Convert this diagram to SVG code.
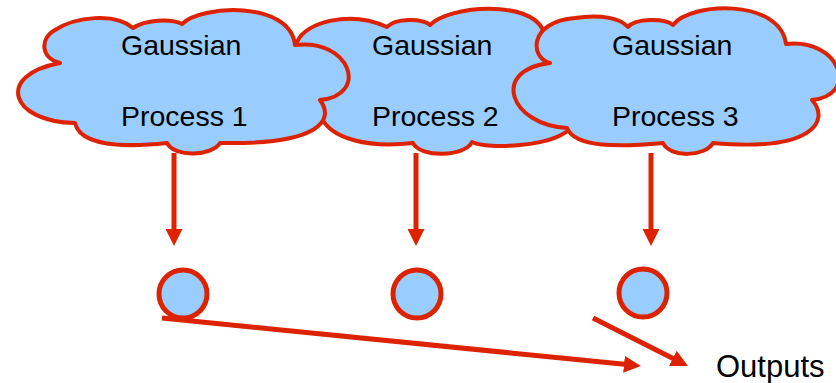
<svg xmlns="http://www.w3.org/2000/svg" width="836" height="383" viewBox="0 0 836 383">
<style>
.cloud{fill:#99ccff;stroke:#dd2200;stroke-width:4;stroke-linejoin:round}
.lbl{font-family:"Liberation Sans",Arial,sans-serif;font-size:28.5px;fill:#000}
.out{font-family:"Liberation Sans",Arial,sans-serif;font-size:31px;fill:#000}
.node{fill:#99ccff;stroke:#dd2200;stroke-width:5}
.edge{stroke:#dd2200;stroke-width:5;fill:none;marker-end:url(#ah)}
</style>
<defs>
<marker id="ah" markerUnits="userSpaceOnUse" markerWidth="17" markerHeight="17" refX="3" refY="8.5" orient="auto">
<path d="M0,0 L17,8.5 L0,17 Z" fill="#dd2200"/>
</marker>
</defs>
<rect width="836" height="383" fill="#fff"/>
<g id="gp2">
<path class="cloud" d="M297,42 C305,22 350,10 387,27 C395,18 422,18 430,25 C450,5 530,0 543,30 C585,30 600,85 570,98 C590,110 580,140 520,145 C500,147 480,146 472,142 C465,157 420,158 413,143 C370,148 330,140 320,115 C280,105 275,50 297,42 Z"/>
<text class="lbl" x="372" y="55">Gaussian</text>
<text class="lbl" x="372" y="126">Process 2</text>
</g>
<g id="gp1">
<path class="cloud" d="M60,63 C40,58 40,38 55,30 C75,17 115,12 133,28 C145,20 170,18 182,24 C200,5 290,0 295,45 C350,38 370,95 320,100 C335,120 320,145 220,143 C212,156 175,158 167,143 C120,148 80,145 75,123 C10,122 -5,75 60,63 Z"/>
<text class="lbl" x="121" y="55">Gaussian</text>
<text class="lbl" x="121" y="126">Process 1</text>
</g>
<g id="gp3">
<path class="cloud" d="M550,63 C530,58 528,22 575,18 C600,14 620,18 628,27 C635,18 665,18 673,25 C690,2 780,-2 786,44 C840,38 860,95 812,100 C830,120 815,152 713,143 C705,157 670,158 663,143 C620,147 575,148 567,128 C510,125 490,70 550,63 Z"/>
<text class="lbl" x="612" y="55">Gaussian</text>
<text class="lbl" x="612" y="126">Process 3</text>
</g>
<g id="y1"><circle class="node" cx="183" cy="294" r="24"/></g>
<g id="y2"><circle class="node" cx="417" cy="294" r="24"/></g>
<g id="y3"><circle class="node" cx="643" cy="293" r="24"/></g>
<g id="outputs"><text class="out" x="716" y="377">Outputs</text></g>
<g id="connectors">
<line class="edge" x1="174" y1="153" x2="174" y2="232"/>
<line class="edge" x1="416" y1="153" x2="416" y2="232"/>
<line class="edge" x1="651" y1="153" x2="651" y2="232"/>
<line class="edge" x1="162" y1="318" x2="627" y2="364.6"/>
<line class="edge" x1="593" y1="318" x2="675.5" y2="359.7"/>
</g>
</svg>
